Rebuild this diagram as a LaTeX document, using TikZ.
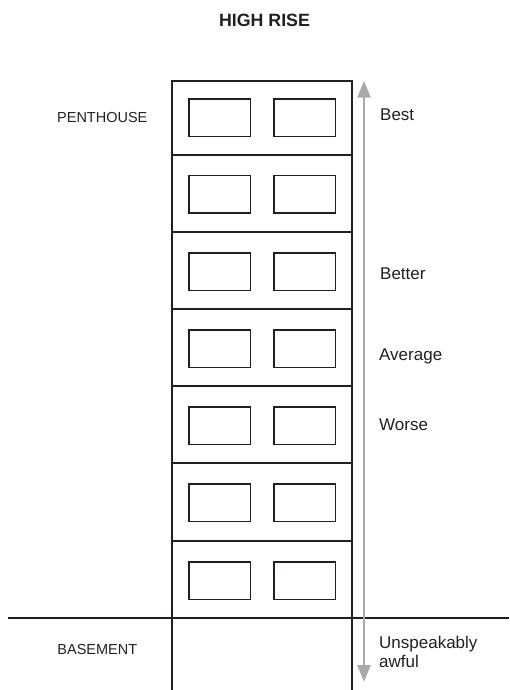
\documentclass[tikz,border=0pt]{standalone}
\usepackage{fontspec}
\setmainfont{Liberation Sans}
\usetikzlibrary{arrows.meta}
\definecolor{ink}{RGB}{35,31,32}
\definecolor{arrowgray}{RGB}{170,170,174}
\tikzset{
  wall/.style={draw=ink, line width=2pt},
  windowbox/.style={draw=ink, line width=1.5pt},
  ground/.style={draw=ink, line width=1.6pt},
  scalearrow/.style={draw=arrowgray, line width=2.6pt, {Triangle[length=17pt,width=13pt]}-{Triangle[length=17pt,width=13pt]}},
  leftlabel/.style={inner sep=0pt, anchor=base, font=\fontsize{14.5}{17}\selectfont, text=ink},
  rightlabel/.style={inner sep=0pt, anchor=base west, font=\fontsize{17}{19}\selectfont, text=ink, align=left},
  titlelabel/.style={inner sep=0pt, anchor=base, font=\fontsize{17.8}{20}\selectfont\bfseries, text=ink}
}
\begin{document}
\begin{tikzpicture}[x=1pt, y=-1pt]
\useasboundingbox (0,0) rectangle (509,690);
% title
\node[titlelabel] (title) at (264.5,26.7) {HIGH RISE};
% walls
\coordinate (wlt) at (172.3,81);
\coordinate (wrt) at (352,81);
\coordinate (wlb) at (172.3,690);
\coordinate (wrb) at (352,690);
\draw[wall] (wlb) -- (wlt) -- (wrt) -- (wrb);
% floor lines
\foreach \y in {155,232.1,309.2,386.3,463.4,540.5} {
  \draw[wall] (172.3,\y) -- (352,\y);
}
% ground line
\coordinate (gl) at (8,617.7);
\coordinate (gr) at (509,617.7);
\draw[ground] (gl) -- (gr);
% windows
\foreach \t in {99,175.7,252.8,329.9,407,484.1,562.2} {
  \draw[windowbox] (189,\t) rectangle ++(61.3,37.5);
  \draw[windowbox] (274,\t) rectangle ++(61.5,37.5);
}
% arrow
\coordinate (atop) at (364,80.7);
\coordinate (abot) at (364,682);
\draw[scalearrow] (abot) -- (atop);
% left labels
\node[leftlabel] (pent) at (102.3,122) {PENTHOUSE};
\node[leftlabel] (base) at (97.3,654) {BASEMENT};
% right labels
\node[rightlabel] (best) at (380,120.7) {Best};
\node[rightlabel] (better) at (380,279.3) {Better};
\node[rightlabel] (avg) at (379,360.7) {Average};
\node[rightlabel] (worse) at (379,430) {Worse};
\node[rightlabel] (unsp) at (379,667.4) {Unspeakably\\awful};
\end{tikzpicture}
\end{document}
